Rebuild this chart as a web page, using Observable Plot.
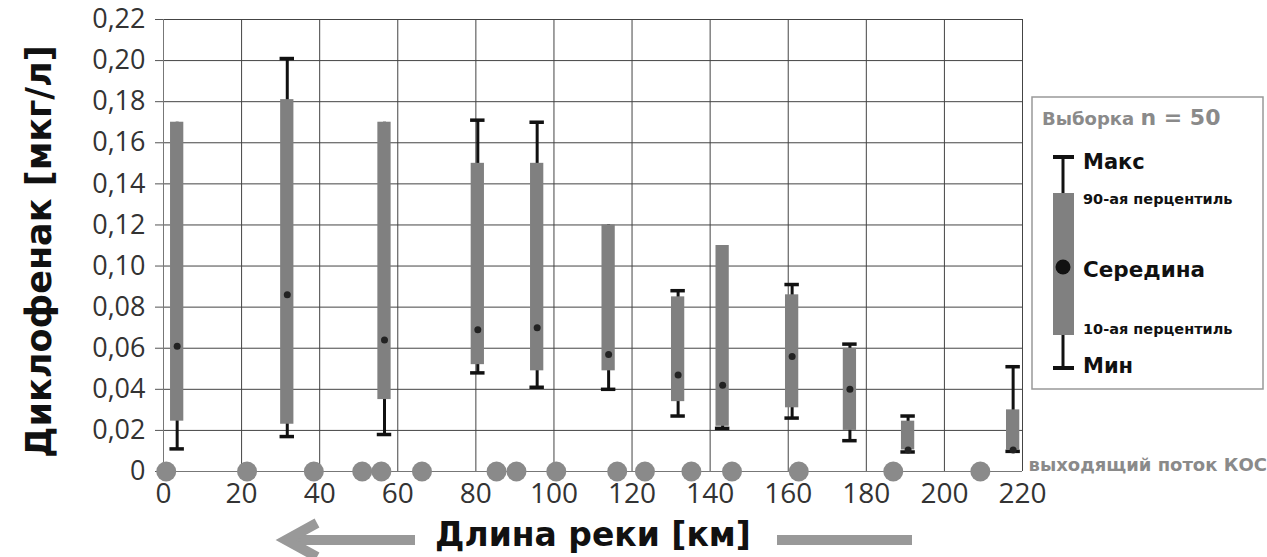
<!DOCTYPE html>
<html><head><meta charset="utf-8">
<script src="https://cdn.jsdelivr.net/npm/d3@7"></script>
<script src="https://cdn.jsdelivr.net/npm/@observablehq/plot@0.6"></script>
<style>
body{margin:0;background:#fff;}
#wrap{position:relative;width:1267px;height:557px;overflow:hidden;background:#fff;}
#wrap svg{position:absolute;left:0;top:0;}
</style></head><body><div id="wrap"></div>
<script>
// Sampling sites (km along river) and statistics (µg/L)
const km     = [3.5, 31.7, 56.6, 80.5, 95.7, 114, 131.8, 143.2, 161, 175.8, 190.7, 217.6];
const minV   = [0.011, 0.017, 0.018, 0.048, 0.041, 0.040, 0.027, 0.021, 0.026, 0.015, 0.0095, 0.0098];
const p10    = [0.0245, 0.023, 0.035, 0.052, 0.049, 0.049, 0.034, 0.022, 0.031, 0.020, 0.0105, 0.0105];
const median = [0.061, 0.086, 0.064, 0.069, 0.070, 0.057, 0.047, 0.042, 0.056, 0.040, 0.0105, 0.0105];
const p90    = [0.170, 0.181, 0.170, 0.150, 0.150, 0.120, 0.085, 0.110, 0.086, 0.060, 0.0245, 0.030];
const maxV   = [0.170, 0.201, 0.170, 0.171, 0.170, 0.120, 0.088, 0.110, 0.091, 0.062, 0.027, 0.051];
// WWTP outflow locations (km)
const outflows = [0.7, 21.4, 38.5, 50.9, 55.8, 66.2, 85.3, 90.4, 100.6, 116.2, 123.3, 135.2, 145.6, 162.7, 186.9, 209.2];
// Tick labels
const xTicks = [0, 20, 40, 60, 80, 100, 120, 140, 160, 180, 200, 220];
const yTicks = [0, 0.02, 0.04, 0.06, 0.08, 0.10, 0.12, 0.14, 0.16, 0.18, 0.20, 0.22];
const yLabel = "Диклофенак [мкг/л]";
const xLabel = "Длина реки [км]";
const outflowLabel = "выходящий поток КОС";
const legendTitle = ["Выборка ", "n = 50"];
const legendItems = ["Макс", "90-ая перцентиль", "Середина", "10-ая перцентиль", "Мин"];

const data = km.map((k, i) => ({km: k, min: minV[i], p10: p10[i], median: median[i], p90: p90[i], max: maxV[i]}));
const fmt = d => d === 0 ? "0" : d.toFixed(2).replace(".", ",");
const hw = 1.7, cw = 1.85;
const bold = "'DejaVu Sans', sans-serif";

const chart = Plot.plot({
  width: 1267, height: 557,
  marginLeft: 163, marginRight: 245, marginTop: 19, marginBottom: 86,
  style: {fontFamily: "'Open Sans', sans-serif", fontSize: "27px", color: "#333", background: "transparent", overflow: "visible"},
  x: {domain: [0, 220]},
  y: {domain: [0, 0.22]},
  marks: [
    Plot.gridX(xTicks.filter(t => t > 0), {stroke: "#444", strokeOpacity: 1}),
    Plot.gridY(yTicks.filter(t => t > 0), {stroke: "#444", strokeOpacity: 1}),
    Plot.ruleX([0], {stroke: "#777"}),
    Plot.ruleY([0], {stroke: "#777"}),
    Plot.axisY(yTicks, {tickFormat: fmt, tickSize: 8, tickPadding: 10, label: null, stroke: "#555", fill: "#333", fontSize: 27}),
    Plot.axisX(xTicks, {tickSize: 0, tickPadding: 12, label: null, fill: "#333", fontSize: 28}),
    Plot.ruleX(data, {x: "km", y1: "min", y2: "max", stroke: "#111", strokeWidth: 3}),
    Plot.rectY(data, {x1: d => d.km - hw, x2: d => d.km + hw, y1: "p10", y2: "p90", fill: "#808080"}),
    Plot.ruleY(data.filter(d => d.max > d.p90), {y: "max", x1: d => d.km - cw, x2: d => d.km + cw, stroke: "#111", strokeWidth: 3.5}),
    Plot.ruleY(data.filter(d => d.min < d.p10), {y: "min", x1: d => d.km - cw, x2: d => d.km + cw, stroke: "#111", strokeWidth: 3.5}),
    Plot.dot(data, {x: "km", y: "median", r: 3.5, fill: "#222"}),
    Plot.dot(outflows, {x: d => d, y: () => 0, r: 10, fill: "#8a8a8a", clip: false}),
    Plot.text([yLabel], {text: d => d, frameAnchor: "left", textAnchor: "middle", lineAnchor: "middle", dx: -124, dy: 6, rotate: -90, fontSize: 35, fontWeight: "bold", fontFamily: bold, fill: "#111"}),
    Plot.text([xLabel], {text: d => d, frameAnchor: "bottom", lineAnchor: "bottom", dy: 74, fontSize: 33, fontWeight: "bold", fontFamily: bold, fill: "#111"}),
    Plot.text([outflowLabel], {text: d => d, frameAnchor: "bottom-right", textAnchor: "start", lineAnchor: "middle", dx: 6, dy: -6, fontSize: 18, fontWeight: "bold", fontFamily: bold, fill: "#8a8a8a"})
  ]
});
document.getElementById("wrap").appendChild(chart);

// Decorations: arrows and legend
const ov = d3.select("#wrap").append("svg").attr("width", 1267).attr("height", 557).style("pointer-events", "none");
ov.append("line").attr("x1", 286).attr("x2", 415).attr("y1", 540).attr("y2", 540).attr("stroke", "#999").attr("stroke-width", 10);
ov.append("path").attr("d", "M317,523 L286,540 L317,557").attr("fill", "none").attr("stroke", "#999").attr("stroke-width", 10);
ov.append("line").attr("x1", 777).attr("x2", 912).attr("y1", 540).attr("y2", 540).attr("stroke", "#999").attr("stroke-width", 10);

const lg = ov.append("g");
lg.append("rect").attr("x", 1032).attr("y", 97).attr("width", 231).attr("height", 292).attr("fill", "#fff").attr("stroke", "#999").attr("stroke-width", 1.5);
const t = lg.append("text").attr("x", 1042).attr("y", 125).attr("fill", "#8a8a8a").attr("font-family", bold);
t.append("tspan").attr("font-size", 18).attr("font-weight", 600).text(legendTitle[0]);
t.append("tspan").attr("font-size", 22).attr("font-weight", "bold").text(legendTitle[1]);
lg.append("line").attr("x1", 1063).attr("x2", 1063).attr("y1", 156).attr("y2", 369).attr("stroke", "#111").attr("stroke-width", 3);
lg.append("line").attr("x1", 1053).attr("x2", 1074).attr("y1", 157).attr("y2", 157).attr("stroke", "#111").attr("stroke-width", 4);
lg.append("line").attr("x1", 1053).attr("x2", 1074).attr("y1", 368).attr("y2", 368).attr("stroke", "#111").attr("stroke-width", 4);
lg.append("rect").attr("x", 1053).attr("y", 193).attr("width", 21).attr("height", 142).attr("fill", "#808080");
lg.append("circle").attr("cx", 1063).attr("cy", 267).attr("r", 7.5).attr("fill", "#111");
const items = [
  {y: 162, s: 21, text: legendItems[0]},
  {y: 199, s: 14.5, text: legendItems[1]},
  {y: 269, s: 21.5, text: legendItems[2]},
  {y: 329, s: 14.5, text: legendItems[3]},
  {y: 366, s: 21, text: legendItems[4]}
];
lg.selectAll("text.it").data(items).join("text").attr("class", "it")
  .attr("x", 1083).attr("y", d => d.y).attr("dy", "0.35em")
  .attr("font-size", d => d.s).attr("font-weight", "bold").attr("font-family", bold).attr("fill", "#111")
  .text(d => d.text);
</script></body></html>
